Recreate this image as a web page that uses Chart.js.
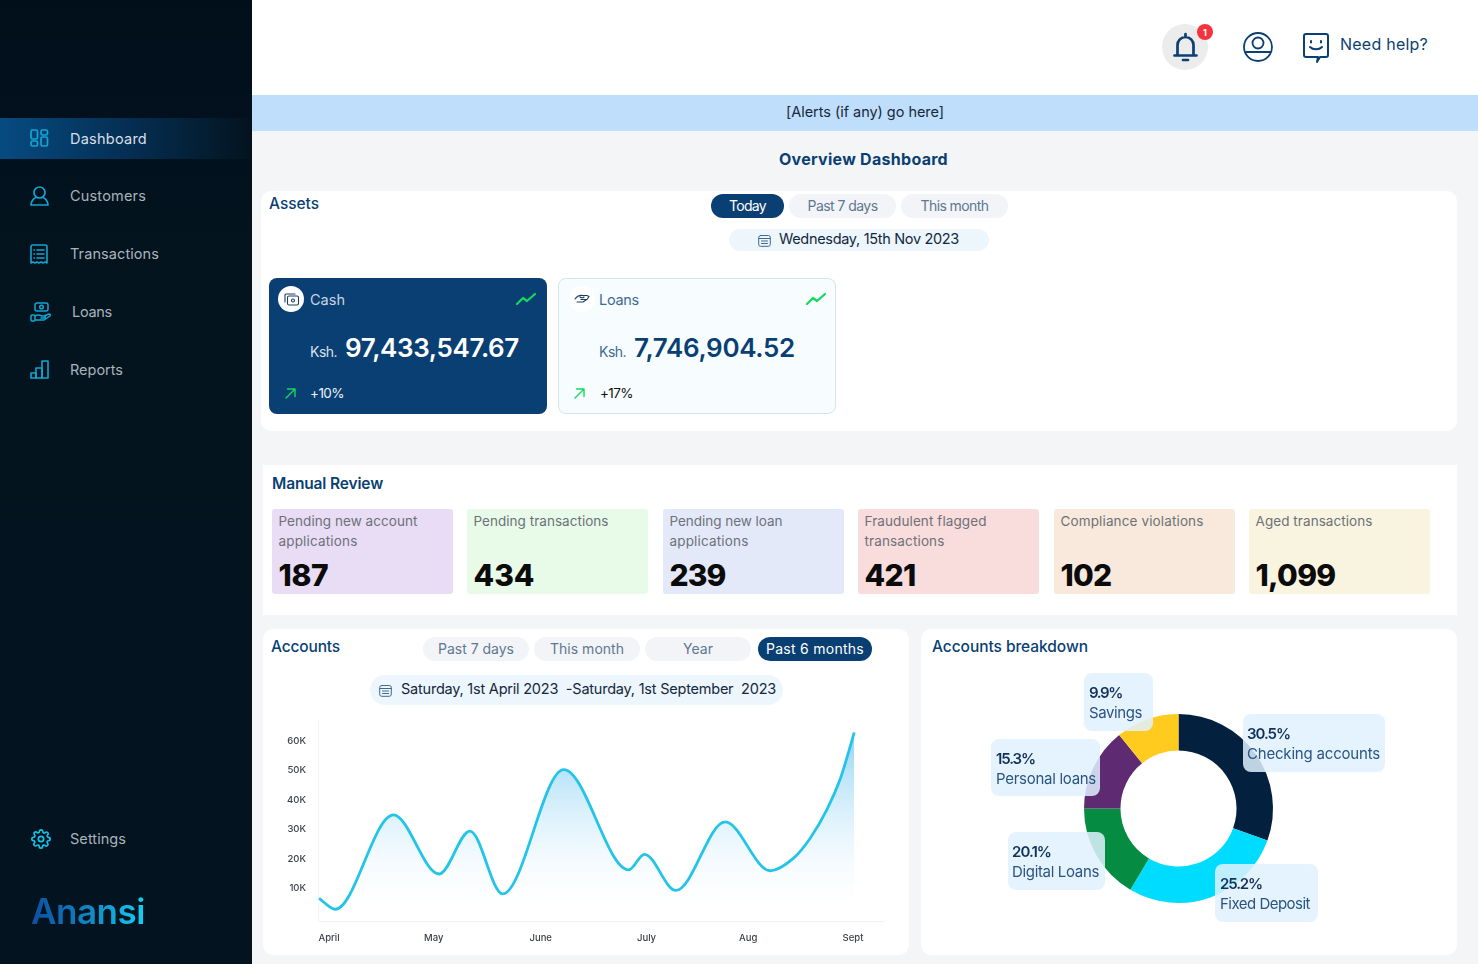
<!DOCTYPE html>
<html><head><meta charset="utf-8">
<script src="https://cdn.jsdelivr.net/npm/chart.js@4"></script>
<style>
html,body{margin:0;padding:0;width:1478px;height:964px;overflow:hidden;background:#f4f5f7;font-family:Inter,"Noto Sans",sans-serif}
.b{position:absolute;box-sizing:border-box}
.t{position:absolute;white-space:pre;line-height:1;transform:translateY(-50%)}
canvas{position:absolute;display:block}
svg{position:absolute;overflow:visible;fill:none;stroke-linecap:round;stroke-linejoin:round}
</style></head><body>
<script>
/* ---------- chart data ---------- */
const months=["April","May","June","July","Aug","Sept"];
const monthPositions=[0,1,2.02,3.03,4,5];
const yTicks=[10000,20000,30000,40000,50000,60000];
const linePositions=[-0.095,0.06,0.614,1.05,1.345,1.657,2.24,2.86,3.01,3.31,3.78,4.21,4.43,4.59,4.75,4.88,4.955,5.012];
const lineValues=[6500,2800,34900,14800,29400,8000,50300,16200,21500,9200,32500,15900,20100,26900,36600,47300,55900,63000];
const donutLabels=["Checking accounts","Fixed Deposit","Digital Loans","Personal loans","Savings"];
const donutPercents=["30.5%","25.2%","20.1%","15.3%","9.9%"];
const donutShares=[30.5,28,16.5,14.2,10.8];
const donutColors=["#03213f","#00dcff","#058c42","#5e2a72","#ffcb1f"];
const navLabels=["Dashboard","Customers","Transactions","Loans","Reports","Settings"];
const reviewTitles=[["Pending new account","applications"],["Pending transactions"],["Pending new loan","applications"],["Fraudulent flagged","transactions"],["Compliance violations"],["Aged transactions"]];
const reviewCounts=["187","434","239","421","102","1,099"];

/* ---------- page helpers ---------- */
const NAVY="#0a3f73";
function box(x,y,w,h,bg,r,extra){const d=document.createElement('div');d.className='b';
 d.style.cssText=`left:${x}px;top:${y}px;width:${w}px;height:${h}px;background:${bg};border-radius:${r||0}px;${extra||''}`;document.body.appendChild(d);return d}
function text(x,y,s,size,weight,color,width,center){const d=document.createElement('span');d.className='t';d.textContent=s;
 d.style.cssText=`left:${x}px;top:${y}px;font-size:${size}px;font-weight:${weight};color:${color}`;document.body.appendChild(d);
 if(width){const w=d.getBoundingClientRect().width;d.style.letterSpacing=((width-w)/s.length)+'px'}
 if(center){const w=d.getBoundingClientRect().width;d.style.left=(x-w/2)+'px'}
 return d}
function icon(x,y,w,h,vb,inner,stroke,sw){const s=document.createElementNS('http://www.w3.org/2000/svg','svg');
 s.setAttribute('viewBox',vb);s.setAttribute('width',w);s.setAttribute('height',h);
 s.style.left=x+'px';s.style.top=y+'px';s.style.stroke=stroke;s.style.strokeWidth=sw;s.innerHTML=inner;document.body.appendChild(s);return s}

/* ---------- frame ---------- */
box(252,0,1226,95,"#fff");
box(252,95,1226,36,"#bfdefb");
box(0,0,252,964,"linear-gradient(180deg,#010f1b 0%,#03141f 30%,#03131f 100%)");
box(0,118,250,41,"linear-gradient(90deg,#064b80 0%,#052f55 50%,#03141f 100%)");

/* sidebar */
const navY=[139,196,254,312,370,839],navX=[70,70,70,72,70,70],navW=[77,76,89,40,53,56];
navLabels.forEach((n,i)=>text(navX[i],navY[i],n,14.5,400,i==0?"#d7dfe6":"#a9b3bb",navW[i]));
const IC="#12a5d3";
icon(30,129,18,18,"0 0 18 18",'<rect x="1" y="1" width="6.5" height="9" rx="1.5"/><rect x="11" y="1" width="6.5" height="5" rx="1.5"/><rect x="1" y="12" width="6.5" height="5" rx="1.5"/><rect x="11" y="8" width="6.5" height="9" rx="1.5"/>',IC,1.7);
icon(30,186,19,20,"0 0 19 20",'<circle cx="9.5" cy="6.5" r="5.5"/><path d="M1 19h17c0-4-3-7-5-7.5M1 19c0-4 3-7 5-7.5"/>',IC,1.7);
icon(30,244,18,20,"0 0 18 20",'<path d="M1 3a2 2 0 0 1 2-2h12a2 2 0 0 1 2 2v16l-2-1-2 1-2-1-2 1-2-1-2 1-2-1-2 1z"/><path d="M7 6h7M7 10h7M7 14h7M4 6h.5M4 10h.5M4 14h.5"/>',IC,1.6);
icon(30,302,22,20,"0 0 22 20",'<rect x="5" y="1" width="13" height="8" rx="2"/><circle cx="11.5" cy="5" r="1.8"/><rect x="1" y="13" width="4" height="6" rx="1"/><path d="M5 14c3-2 5-1 7 0h3c1 1 0 2-1 2h-3M5 18h9l6-4c1-1 0-2-1-2l-5 2"/>',IC,1.5);
icon(30,360,19,19,"0 0 19 19",'<rect x="1" y="13" width="5" height="5"/><rect x="6" y="8" width="6" height="10"/><rect x="12" y="1" width="6" height="17"/>',IC,1.6);
icon(31,829,20,20,"0 0 24 24",'<circle cx="12" cy="12" r="3.2"/><path d="M19.4 15a1.7 1.7 0 0 0 .3 1.8l.1.1a2 2 0 1 1-2.9 2.9l-.1-.1a1.7 1.7 0 0 0-2.9 1.2V21a2 2 0 1 1-4 0v-.1a1.7 1.7 0 0 0-2.9-1.2l-.1.1a2 2 0 1 1-2.9-2.9l.1-.1a1.7 1.7 0 0 0-1.2-2.9H3a2 2 0 1 1 0-4h.1a1.7 1.7 0 0 0 1.2-2.9l-.1-.1a2 2 0 1 1 2.9-2.9l.1.1a1.7 1.7 0 0 0 2.9-1.2V3a2 2 0 1 1 4 0v.1a1.7 1.7 0 0 0 2.9 1.2l.1-.1a2 2 0 1 1 2.9 2.9l-.1.1a1.7 1.7 0 0 0 1.2 2.9H21a2 2 0 1 1 0 4h-.1a1.7 1.7 0 0 0-1.5 1z"/>',"#12c4e8",2);
const logo=text(31,911,"Anansi",35,600,"transparent",114);
logo.style.background="linear-gradient(90deg,#0d4ea0 0%,#0f86c4 50%,#12d0f5 100%)";logo.style.webkitBackgroundClip="text";logo.style.backgroundClip="text";

/* top bar */
box(1162,24,46,46,"#ececec",23);
icon(1173,33,25,29,"0 0 25 29",'<path d="M1.500 22.500h22M4.500 22.500V12a8 8 0 0 1 16 0v10.500M12.500 1v3M10 27h5"/>',NAVY,2.700);
box(1197,24,16,16,"#f5333f",8);
text(1205,32,"1",9,700,"#fff",0,true);
icon(1243,32,30,30,"0 0 30 30",'<circle cx="15" cy="15" r="14"/><circle cx="15" cy="11" r="5.500"/><path d="M3 20h24"/>',NAVY,1.800);
icon(1303,33,26,30,"0 0 26 30",'<path d="M3 1h20a2 2 0 0 1 2 2v19a2 2 0 0 1-2 2h-6l-3 5 1-5H3a2 2 0 0 1-2-2V3a2 2 0 0 1 2-2z"/><path d="M8 8v1.500M18 8v1.500M7 14c3 3 9 3 12 0"/>',NAVY,2);
text(1340,44,"Need help?",16,400,NAVY,88);
text(865,112,"[Alerts (if any) go here]",14.5,400,"#17293b",158,true);
text(863.500,159,"Overview Dashboard",16,700,NAVY,169,true);

/* assets panel */
box(261,191,1196,240,"#fff",10);
text(269,204,"Assets",15.500,500,NAVY,50);
function pill(x,y,w,h,s,on,tw){box(x,y,w,h,on?NAVY:"#f2f4f7",h/2);text(x+w/2,y+h/2,s,14,400,on?"#fff":"#5e7891",tw,true)}
pill(711,194,73,24,"Today",true,37);pill(789,194,107,24,"Past 7 days",false,70);pill(901,194,107,24,"This month",false,68);
const cal=(x,y)=>icon(x,y,13,13,"0 0 13 13",'<rect x=".7" y="1.500" width="11.600" height="10.800" rx="2"/><path d="M.7 4.500h11.600M3.500 7h6M3.500 9.500h6"/>',"#3f6a90",1);
box(729,229,260,22,"#edf5fd",11);cal(758,233.500);
text(779,239,"Wednesday, 15th Nov 2023",14.500,400,"#14283c",180);

box(269,278,278,136,NAVY,8);
box(278,286,26,26,"#fff",13);
icon(284,293,15,13,"0 0 15 13",'<rect x="3.500" y="3" width="11" height="9" rx="1.500"/><path d="M1 9V2a1 1 0 0 1 1-1h9"/><circle cx="9" cy="7.500" r="1.500"/>',"#1b3f63",1.1);
text(310,300,"Cash",14.500,400,"#c8d5e1",35);
const trend=(x,y)=>icon(x,y,20,12,"0 0 20 12",'<path d="M1 11l6-6 4 3 8-7"/>',"#12d85f",2.200);
trend(516,293);
text(310,352,"Ksh.",14,400,"#d8e2ea",27);
text(345,348,"97,433,547.67",26,600,"#fff",174);
const arrow=(x,y)=>icon(x,y,11,11,"0 0 11 11",'<path d="M1 10L10 1M2.500 1H10v7.500"/>',"#15d860",1.400);
arrow(285,388);
text(310,394,"+10%",13.500,400,"#eef3f7",34);

box(558,278,278,136,"#f7fdff",8,"border:1px solid #d6e4ec");
box(569,286,26,26,"#fff",13);
icon(574,294,16,10,"0 0 16 10",'<path d="M1 5c2-3 5-4 8-3.500h4l2 1-2 3H7M3 8h6l3-2M6 3c1 1 3 1 4 0"/>',"#1b3f63",1.100);
text(599,300,"Loans",14.500,400,"#3f6a90",40);
trend(806,293);
text(599,352,"Ksh.",14,400,"#3f6a90",27);
text(634,348,"7,746,904.52",26,600,NAVY,161);
arrow(574,388);
text(600,394,"+17%",13.500,400,"#111",33);

/* manual review */
box(263,465,1194,150,"#fff");
text(272,484,"Manual Review",15.500,600,NAVY,111);
const rX=[272,467,663,858,1054,1249],rC=["#e9dcf5","#e8fbe9","#e4e9fa","#f9dcdc","#f8e9dc","#f9f4e0"];
const rN=[50,61,56,51,51,80],rT=[139,135,113,122,143,117];
reviewTitles.forEach((l,i)=>{box(rX[i],509,181,85,rC[i],3);
 l.forEach((s,j)=>text(rX[i]+6.500,522+j*20,s,13.500,400,"#6d7279",j==0?rT[i]:(i==3?80:79)));
 text(rX[i]+6.500,575,reviewCounts[i],30,800,"#0b0b0b",rN[i]);});

/* accounts */
box(263,629,646,326,"#fff",10);
text(271,647,"Accounts",15.500,500,NAVY,69);
pill(423,637,106,24,"Past 7 days",false,76);pill(534,637,106,24,"This month",false,74);pill(645,637,106,24,"Year",false,30);pill(758,637,114,24,"Past 6 months",true,98);
box(370,675,413,30,"#edf5fd",15);cal(379,684);
text(401,689,"Saturday, 1st April 2023  -Saturday, 1st September  2023",14.500,400,"#14283c",375);

/* breakdown */
box(921,629,536,326,"#fff",10);
text(932,647,"Accounts breakdown",15.500,500,NAVY,156);

/* charts */
function canvas(x,y,w,h){const c=document.createElement('canvas');c.width=w;c.height=h;c.style.cssText=`left:${x}px;top:${y}px;width:${w}px;height:${h}px`;document.body.appendChild(c);return c}
const chartFont={family:'Inter,"Noto Sans",sans-serif',size:9.500,weight:'500'};
new Chart(canvas(263,715,640,235),{type:'line',
 data:{datasets:[{data:linePositions.map((x,i)=>({x,y:lineValues[i]})),borderColor:"#23c4e8",borderWidth:2.800,pointRadius:0,
  cubicInterpolationMode:'monotone',fill:'start',
  backgroundColor(ctx){const a=ctx.chart.chartArea;if(!a)return 'transparent';const g=ctx.chart.ctx.createLinearGradient(0,a.top+10,0,a.bottom);
   g.addColorStop(0,'rgba(130,205,243,.9)');g.addColorStop(1,'rgba(255,255,255,0)');return g}}]},
 options:{responsive:false,animation:false,devicePixelRatio:1,events:[],
  layout:{padding:{top:5,right:19,left:0,bottom:0}},
  plugins:{legend:{display:false},tooltip:{enabled:false}},
  scales:{
   x:{type:'linear',min:-0.105,max:5.296,
    afterBuildTicks(s){s.ticks=monthPositions.map(v=>({value:v}))},
    afterFit(s){s.height=29;s.paddingLeft=0;s.paddingRight=0},
    grid:{drawOnChartArea:false,drawTicks:false},border:{color:"#f1f3f5"},
    ticks:{padding:11,autoSkip:false,maxRotation:0,color:"#3d4248",font:chartFont,callback:v=>months[monthPositions.indexOf(v)]}},
   y:{type:'linear',min:-1200,max:67200,
    afterBuildTicks(s){s.ticks=yTicks.map(v=>({value:v}))},
    afterFit(s){s.width=55;s.paddingTop=0;s.paddingBottom=0},
    grid:{drawOnChartArea:false,drawTicks:false},border:{color:"#f1f3f5"},
    ticks:{padding:12,color:"#3d4248",font:chartFont,callback:v=>(v/1000)+'K'}}
  }}});

new Chart(canvas(1068,698,221,221),{type:'doughnut',
 data:{labels:donutLabels,datasets:[{data:donutShares,backgroundColor:donutColors,borderWidth:0}]},
 options:{responsive:false,animation:false,devicePixelRatio:1,events:[],radius:94.500,cutout:'61.4%',
  plugins:{legend:{display:false},tooltip:{enabled:false}}}});

/* donut callouts, in the same order as the series */
const cX=[1243,1215,1008,991,1084],cY=[714,864,832,739,673],cW=[142,103,97,109,69],cH=[58,58,58,57,58];
const lW=[133,90,87,100,53],pW=[43,42,39,39,33];
donutLabels.forEach((l,i)=>{box(cX[i],cY[i],cW[i],cH[i],"rgba(224,241,255,.85)",8);
 const tx=cX[i]+(i==0?4:i==4?5:i==3?5:i==2?4:5);
 text(tx,cY[i]+19,donutPercents[i],15,600,"#123359",pW[i]);
 text(tx,cY[i]+39,l,15,400,"#2a5580",lW[i]);});
</script>
</body></html>
